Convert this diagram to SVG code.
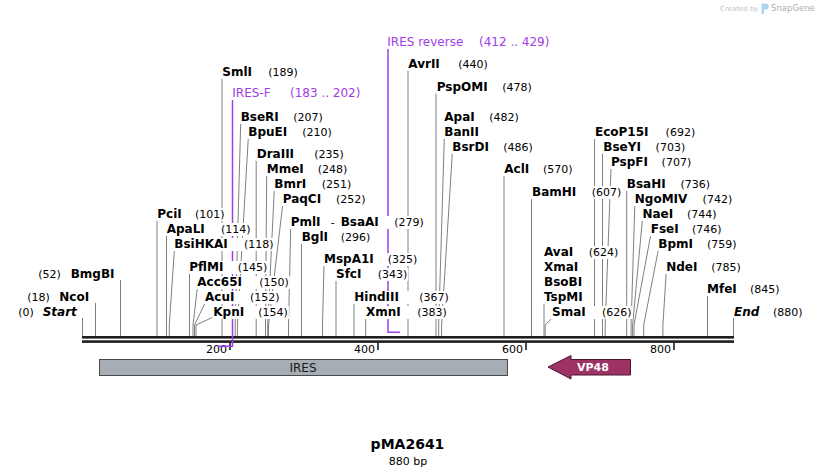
<svg xmlns="http://www.w3.org/2000/svg" width="818" height="475" viewBox="0 0 818 475">
<style>
.ln{stroke:#808080;stroke-width:1;fill:none}
.bg{fill:#fff}
text{font-family:'DejaVu Sans',Verdana,sans-serif;fill:#000}
.nm{font-weight:bold;font-size:12px}
.num{font-size:11px}
.it{font-style:italic}
.pr{fill:#a23de6;font-size:12px}
.prl{stroke:#a23de6;stroke-width:1.5;fill:none}
.bb{fill:#1f1f1f}
.tk{fill:#1f1f1f}
.tkl{font-size:11px;text-anchor:end}
</style>
<rect width="818" height="475" fill="#fff"/>

<g id="logo">
<text x="720" y="10.5" style="font-size:7px;fill:#c4c4c4">Created by</text>
<path d="M761.5 3.5h4.2a3 3 0 0 1 0 6h-1.7v4.5h-2.5z" fill="#a9d5f2"/>
<text x="771" y="11" style="font-size:8.5px;fill:#adadad">SnapGene</text>
</g>

<g id="connectors" class="ln">
<path d="M82.5 318V336"/>
<path d="M95.5 303V336"/>
<path d="M120.5 280V336"/>
<path d="M157 220V336"/>
<path d="M166.5 235V336"/>
<path d="M174.3 251L169.3 325V336"/>
<path d="M189.5 273V336"/>
<path d="M197.3 288L193 325V336"/>
<path d="M205 303L194.5 325V336"/>
<path d="M213.3 317L196 325V336"/>
<path d="M222 78V336"/>
<path d="M240.7 123L235.2 325V336"/>
<path d="M248.3 138L237.4 325V336"/>
<path d="M256.2 160V336"/>
<path d="M266.7 175L265.5 325V336"/>
<path d="M274.3 190L267.7 325V336"/>
<path d="M282.7 205L268.5 325V336"/>
<path d="M290.7 228L288.5 325V336"/>
<path d="M301.5 243V336"/>
<path d="M324 265L322.5 325V336"/>
<path d="M336 280V336"/>
<path d="M354 303V336"/>
<path d="M365.7 318V336"/>
<path d="M408 70V336"/>
<path d="M436 93V336"/>
<path d="M444.3 138L438.7 325V336"/>
<path d="M452.3 153L441.6 325V336"/>
<path d="M504 175V336"/>
<path d="M531.5 198V336"/>
<path d="M544 303V336"/>
<path d="M552 318L545.2 325V336"/>
<path d="M594.5 138V336"/>
<path d="M602.5 153V336"/>
<path d="M611 168L605.2 325V336"/>
<path d="M626.7 190V336"/>
<path d="M634.8 205L631.1 325V336"/>
<path d="M642.4 220L632.6 325V336"/>
<path d="M650.7 235L634 325V336"/>
<path d="M658.3 250L643.7 325V336"/>
<path d="M666.2 273L662.9 325V336"/>
<path d="M707.5 295V336"/>
<path d="M733.5 318V336"/>
</g>

<g id="backbone">
<rect class="bb" x="82" y="336" width="652" height="2.6"/>
<rect class="bb" x="82" y="340.3" width="652" height="2.6"/>
<rect class="tk" x="229.2" y="343" width="1.6" height="7"/>
<rect class="tk" x="377.2" y="343" width="1.6" height="7"/>
<rect class="tk" x="525.2" y="343" width="1.6" height="7"/>
<rect class="tk" x="673.2" y="343" width="1.6" height="7"/>
<text class="tkl" x="227" y="353">200</text>
<text class="tkl" x="375" y="353">400</text>
<text class="tkl" x="523" y="353">600</text>
<text class="tkl" x="671" y="353">800</text>
</g>

<g id="primer-lines">
<path class="prl" d="M232.5 100V346.2H217"/>
<path class="prl" d="M388 49V332.2H400"/>
</g>

<g id="p-iresf"><rect class="bg" x="231.3" y="86" width="130" height="14"/><text y="97"><tspan class="pr" x="232.3">IRES-F</tspan><tspan class="pr" x="290">(183 .. 202)</tspan></text></g>
<g id="p-iresrev"><rect class="bg" x="386.3" y="35" width="164" height="14"/><text y="46"><tspan class="pr" x="387.3">IRES reverse</tspan><tspan class="pr" x="479">(412 .. 429)</tspan></text></g>

<g id="e-start"><rect class="bg" x="17.3" y="306" width="60" height="13"/><text y="316"><tspan class="num" x="18.3">(0)</tspan><tspan class="nm it" x="42.7">Start</tspan></text></g>
<g id="e-ncoi"><rect class="bg" x="26.3" y="291" width="64" height="13"/><text y="301"><tspan class="num" x="27.3">(18)</tspan><tspan class="nm" x="59.3">NcoI</tspan></text></g>
<g id="e-bmgbi"><rect class="bg" x="37.3" y="268" width="78" height="13"/><text y="278"><tspan class="num" x="38.3">(52)</tspan><tspan class="nm" x="70.7">BmgBI</tspan></text></g>
<g id="e-pcii"><rect class="bg" x="156.3" y="208" width="69.3" height="13"/><text y="218"><tspan class="nm" x="157.3">PciI</tspan><tspan class="num" x="195">(101)</tspan></text></g>
<g id="e-apali"><rect class="bg" x="165.7" y="223" width="86" height="13"/><text y="233"><tspan class="nm" x="166.7">ApaLI</tspan><tspan class="num" x="221">(114)</tspan></text></g>
<g id="e-bsihkai"><rect class="bg" x="173.3" y="238" width="101.3" height="13"/><text y="248"><tspan class="nm" x="174.3">BsiHKAI</tspan><tspan class="num" x="244">(118)</tspan></text></g>
<g id="e-pflmi"><rect class="bg" x="188.3" y="261" width="80" height="13"/><text y="271"><tspan class="nm" x="189.3">PflMI</tspan><tspan class="num" x="237.7">(145)</tspan></text></g>
<g id="e-acc65i"><rect class="bg" x="196.3" y="276" width="93.6" height="13"/><text y="286"><tspan class="nm" x="197.3">Acc65I</tspan><tspan class="num" x="259.3">(150)</tspan></text></g>
<g id="e-acui"><rect class="bg" x="204" y="291" width="76.6" height="13"/><text y="301"><tspan class="nm" x="205">AcuI</tspan><tspan class="num" x="250">(152)</tspan></text></g>
<g id="e-kpni"><rect class="bg" x="212.3" y="306" width="76.6" height="13"/><text y="316"><tspan class="nm" x="213.3">KpnI</tspan><tspan class="num" x="258.3">(154)</tspan></text></g>
<g id="e-smli"><rect class="bg" x="221.3" y="66" width="77.6" height="13"/><text y="76"><tspan class="nm" x="222.3">SmlI</tspan><tspan class="num" x="268.3">(189)</tspan></text></g>
<g id="e-bseri"><rect class="bg" x="239.7" y="111" width="84.2" height="13"/><text y="121"><tspan class="nm" x="240.7">BseRI</tspan><tspan class="num" x="293.3">(207)</tspan></text></g>
<g id="e-bpuei"><rect class="bg" x="247.3" y="126" width="85.6" height="13"/><text y="136"><tspan class="nm" x="248.3">BpuEI</tspan><tspan class="num" x="302.3">(210)</tspan></text></g>
<g id="e-draiii"><rect class="bg" x="255.7" y="148" width="89.2" height="13"/><text y="158"><tspan class="nm" x="256.7">DraIII</tspan><tspan class="num" x="314.3">(235)</tspan></text></g>
<g id="e-mmei"><rect class="bg" x="265.7" y="163" width="82.6" height="13"/><text y="173"><tspan class="nm" x="266.7">MmeI</tspan><tspan class="num" x="317.7">(248)</tspan></text></g>
<g id="e-bmri"><rect class="bg" x="273.3" y="178" width="79" height="13"/><text y="188"><tspan class="nm" x="274.3">BmrI</tspan><tspan class="num" x="321.7">(251)</tspan></text></g>
<g id="e-paqci"><rect class="bg" x="281.7" y="193" width="84.9" height="13"/><text y="203"><tspan class="nm" x="282.7">PaqCI</tspan><tspan class="num" x="336">(252)</tspan></text></g>
<g id="e-pmli-bsaai"><rect class="bg" x="289.7" y="216" width="135.2" height="13"/><text y="226"><tspan class="nm" x="290.7">PmlI</tspan><tspan class="num" x="330.7">-</tspan><tspan class="nm" x="340.7">BsaAI</tspan><tspan class="num" x="394.3">(279)</tspan></text></g>
<g id="e-bgli"><rect class="bg" x="300.7" y="231" width="70.6" height="13"/><text y="241"><tspan class="nm" x="301.7">BglI</tspan><tspan class="num" x="340.7">(296)</tspan></text></g>
<g id="e-mspa1i"><rect class="bg" x="323" y="253" width="95.3" height="13"/><text y="263"><tspan class="nm" x="324">MspA1I</tspan><tspan class="num" x="387.7">(325)</tspan></text></g>
<g id="e-sfci"><rect class="bg" x="335" y="268" width="73.3" height="13"/><text y="278"><tspan class="nm" x="336">SfcI</tspan><tspan class="num" x="377.7">(343)</tspan></text></g>
<g id="e-hindiii"><rect class="bg" x="353.3" y="291" width="96.6" height="13"/><text y="301"><tspan class="nm" x="354.3">HindIII</tspan><tspan class="num" x="419.3">(367)</tspan></text></g>
<g id="e-xmni"><rect class="bg" x="365" y="306" width="82.9" height="13"/><text y="316"><tspan class="nm" x="366">XmnI</tspan><tspan class="num" x="417.3">(383)</tspan></text></g>
<g id="e-avrii"><rect class="bg" x="407.3" y="58" width="81.6" height="13"/><text y="68"><tspan class="nm" x="408.3">AvrII</tspan><tspan class="num" x="458.3">(440)</tspan></text></g>
<g id="e-pspomi"><rect class="bg" x="435.7" y="81" width="97.2" height="13"/><text y="91"><tspan class="nm" x="436.7">PspOMI</tspan><tspan class="num" x="502.3">(478)</tspan></text></g>
<g id="e-apai-banii"><rect class="bg" x="443.3" y="111" width="76.6" height="13"/><rect class="bg" x="443.3" y="126" width="37" height="13"/><text y="121"><tspan class="nm" x="444.3">ApaI</tspan><tspan class="num" x="489.3">(482)</tspan></text><text class="nm" x="444.3" y="136">BanII</text></g>
<g id="e-bsrdi"><rect class="bg" x="451.3" y="141" width="82.6" height="13"/><text y="151"><tspan class="nm" x="452.3">BsrDI</tspan><tspan class="num" x="503.3">(486)</tspan></text></g>
<g id="e-acli"><rect class="bg" x="503.3" y="163" width="70.3" height="13"/><text y="173"><tspan class="nm" x="504.3">AclI</tspan><tspan class="num" x="543">(570)</tspan></text></g>
<g id="e-bamhi"><rect class="bg" x="531" y="186" width="91.3" height="13"/><text y="196"><tspan class="nm" x="532">BamHI</tspan><tspan class="num" x="591.7">(607)</tspan></text></g>
<g id="e-avai-group"><rect class="bg" x="543" y="246" width="76.3" height="13"/><rect class="bg" x="543" y="261" width="37" height="13"/><rect class="bg" x="543" y="276" width="41" height="13"/><rect class="bg" x="543" y="291" width="43" height="13"/><text y="256"><tspan class="nm" x="544">AvaI</tspan><tspan class="num" x="588.7">(624)</tspan></text><text class="nm" x="544" y="271">XmaI</text><text class="nm" x="544" y="286">BsoBI</text><text class="nm" x="544" y="301">TspMI</text></g>
<g id="e-smai"><rect class="bg" x="551" y="306" width="81.6" height="13"/><text y="316"><tspan class="nm" x="552">SmaI</tspan><tspan class="num" x="602">(626)</tspan></text></g>
<g id="e-ecop15i"><rect class="bg" x="594" y="126" width="102.2" height="13"/><text y="136"><tspan class="nm" x="595">EcoP15I</tspan><tspan class="num" x="665.6">(692)</tspan></text></g>
<g id="e-bseyi"><rect class="bg" x="602.3" y="141" width="83.9" height="13"/><text y="151"><tspan class="nm" x="603.3">BseYI</tspan><tspan class="num" x="655.6">(703)</tspan></text></g>
<g id="e-pspfi"><rect class="bg" x="610" y="156" width="82.2" height="13"/><text y="166"><tspan class="nm" x="611">PspFI</tspan><tspan class="num" x="661.6">(707)</tspan></text></g>
<g id="e-bsahi"><rect class="bg" x="625.8" y="178" width="85.3" height="13"/><text y="188"><tspan class="nm" x="626.8">BsaHI</tspan><tspan class="num" x="680.5">(736)</tspan></text></g>
<g id="e-ngomiv"><rect class="bg" x="633.8" y="193" width="99.4" height="13"/><text y="203"><tspan class="nm" x="634.8">NgoMIV</tspan><tspan class="num" x="702.6">(742)</tspan></text></g>
<g id="e-naei"><rect class="bg" x="641.4" y="208" width="76.2" height="13"/><text y="218"><tspan class="nm" x="642.4">NaeI</tspan><tspan class="num" x="687">(744)</tspan></text></g>
<g id="e-fsei"><rect class="bg" x="649.7" y="223" width="72.9" height="13"/><text y="233"><tspan class="nm" x="650.7">FseI</tspan><tspan class="num" x="692">(746)</tspan></text></g>
<g id="e-bpmi"><rect class="bg" x="657.3" y="238" width="80.3" height="13"/><text y="248"><tspan class="nm" x="658.3">BpmI</tspan><tspan class="num" x="707">(759)</tspan></text></g>
<g id="e-ndei"><rect class="bg" x="665.2" y="261" width="76.7" height="13"/><text y="271"><tspan class="nm" x="666.2">NdeI</tspan><tspan class="num" x="711.3">(785)</tspan></text></g>
<g id="e-mfei"><rect class="bg" x="706" y="283" width="74.6" height="13"/><text y="293"><tspan class="nm" x="707">MfeI</tspan><tspan class="num" x="750">(845)</tspan></text></g>
<g id="e-end"><rect class="bg" x="734" y="306" width="70" height="13"/><text y="316"><tspan class="nm it" x="734">End</tspan><tspan class="num" x="773">(880)</tspan></text></g>

<g id="f-ires"><rect x="99.5" y="359.5" width="408" height="16" fill="#a6adb4" stroke="#4a4a4a" stroke-width="1"/><text x="303" y="371.5" text-anchor="middle" style="font-size:12px;fill:#1a1a1a">IRES</text></g>
<g id="f-vp48"><path d="M548 367L571 355.5V359.5H630.5V375H571V379Z" fill="#9c3364" stroke="#4a1830" stroke-width="1"/><text x="593" y="371" text-anchor="middle" style="font-size:11px;font-weight:bold;fill:#fff">VP48</text></g>

<g id="title">
<text x="407.5" y="449" text-anchor="middle" style="font-size:14px;font-weight:bold">pMA2641</text>
<text x="408" y="465" text-anchor="middle" style="font-size:11px">880 bp</text>
</g>
</svg>
